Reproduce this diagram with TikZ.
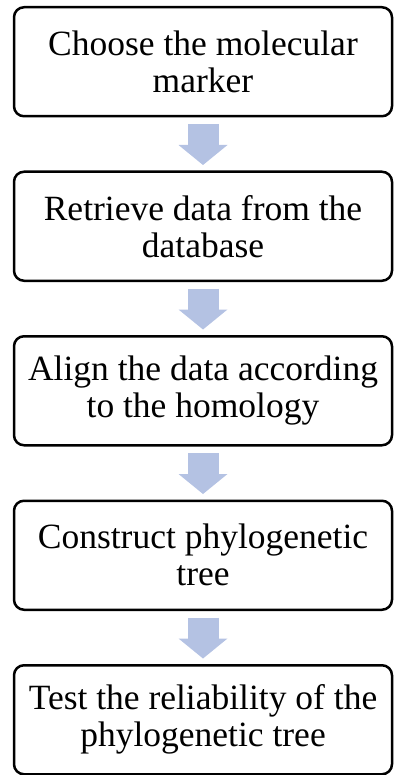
\documentclass[tikz,border=0pt]{standalone}
\usepackage{fontspec}
\setmainfont{Liberation Serif}
\usetikzlibrary{arrows.meta, positioning}
\definecolor{cflow}{HTML}{B4C2E3}
\tikzset{
  every picture/.style={line width=2.5pt},
  stepbox/.style={draw=black, fill=white, rounded corners=10pt, align=center,
    minimum width=378pt, minimum height=109pt, inner sep=2pt,
    font=\fontsize{35.5}{37}\selectfont},
  flow/.style={-{Triangle[width=49pt, length=20pt, line width=0pt]}, draw=cflow,
    line width=31pt, shorten <=6.5pt, shorten >=5.5pt},
}
\begin{document}
\begin{tikzpicture}[x=1pt, y=1pt]
  \useasboundingbox (0,0) rectangle (395,-775);
  % the five steps
  \node[stepbox] (b1) at (203,-61.75) {Choose the molecular\\marker};
  \node[stepbox, below=53pt of b1] (b2) {Retrieve data from the\\database};
  \node[stepbox, below=53pt of b2] (b3) {Align the data according\\to the homology};
  \node[stepbox, below=53pt of b3] (b4) {Construct phylogenetic\\tree};
  \node[stepbox, below=53pt of b4] (b5) {Test the reliability of the\\phylogenetic tree};
  % arrows between steps
  \foreach \a/\b in {b1/b2, b2/b3, b3/b4, b4/b5}
    \draw[flow] (\a.south) -- (\b.north);
\end{tikzpicture}
\end{document}
